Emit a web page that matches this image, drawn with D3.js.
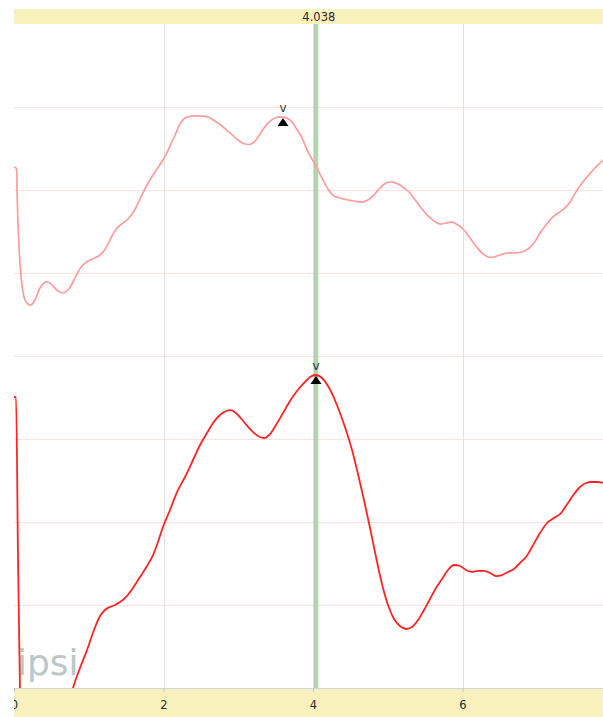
<!DOCTYPE html>
<html>
<head>
<meta charset="utf-8">
<script src="https://cdn.jsdelivr.net/npm/d3@7"></script>
<style>
  html, body { margin: 0; padding: 0; background: #fff; }
  svg { display: block; }
  text { font-family: "DejaVu Sans", Verdana, sans-serif; }
</style>
</head>
<body>
<svg id="chart" width="603" height="717"></svg>
<script>
// Upper (pale) trace: time (s) and amplitude (grid units)
const upperTime = [0, 0.027, 0.040, 0.054, 0.080, 0.107, 0.147, 0.187, 0.227, 0.281, 0.348, 0.401, 0.455, 0.522, 0.589, 0.656, 0.722, 0.789, 0.856, 0.910, 0.990, 1.084, 1.151, 1.231, 1.311, 1.378, 1.458, 1.525, 1.605, 1.686, 1.779, 1.886, 1.993, 2.087, 2.167, 2.221, 2.288, 2.381, 2.488, 2.595, 2.689, 2.783, 2.890, 2.997, 3.090, 3.171, 3.237, 3.318, 3.398, 3.492, 3.599, 3.692, 3.773, 3.853, 3.933, 4.040, 4.120, 4.201, 4.281, 4.361, 4.468, 4.562, 4.656, 4.736, 4.816, 4.896, 4.977, 5.057, 5.137, 5.217, 5.298, 5.378, 5.458, 5.538, 5.619, 5.699, 5.779, 5.860, 5.940, 6.020, 6.100, 6.181, 6.261, 6.341, 6.421, 6.502, 6.595, 6.702, 6.796, 6.876, 6.957, 7.037, 7.117, 7.197, 7.278, 7.358, 7.438, 7.518, 7.599, 7.679, 7.759, 7.839, 7.880];
const upperValues = [6.277, 6.265, 6.0, 5.578, 5.120, 4.855, 4.675, 4.627, 4.614, 4.675, 4.819, 4.880, 4.892, 4.843, 4.783, 4.759, 4.795, 4.892, 5.012, 5.084, 5.145, 5.181, 5.217, 5.301, 5.446, 5.542, 5.602, 5.651, 5.747, 5.892, 6.060, 6.217, 6.361, 6.530, 6.687, 6.795, 6.867, 6.892, 6.892, 6.880, 6.831, 6.771, 6.687, 6.602, 6.554, 6.554, 6.602, 6.711, 6.807, 6.867, 6.880, 6.843, 6.747, 6.627, 6.458, 6.289, 6.145, 6.012, 5.928, 5.904, 5.880, 5.867, 5.855, 5.880, 5.940, 6.024, 6.084, 6.096, 6.072, 6.024, 5.964, 5.867, 5.771, 5.687, 5.627, 5.590, 5.602, 5.614, 5.578, 5.518, 5.422, 5.325, 5.241, 5.193, 5.193, 5.217, 5.241, 5.241, 5.253, 5.289, 5.361, 5.482, 5.578, 5.663, 5.723, 5.771, 5.855, 5.976, 6.084, 6.169, 6.253, 6.325, 6.361];

// Lower (strong) trace
const lowerTime = [0, 0.027, 0.054, 0.080, 0.107, 0.348, 0.615, 0.789, 0.883, 0.977, 1.070, 1.151, 1.217, 1.284, 1.351, 1.418, 1.498, 1.592, 1.686, 1.779, 1.860, 1.926, 1.993, 2.087, 2.181, 2.288, 2.395, 2.488, 2.582, 2.662, 2.756, 2.836, 2.903, 2.983, 3.077, 3.171, 3.264, 3.344, 3.425, 3.505, 3.599, 3.692, 3.786, 3.880, 3.960, 4.040, 4.120, 4.201, 4.281, 4.361, 4.441, 4.522, 4.602, 4.682, 4.763, 4.843, 4.923, 5.003, 5.084, 5.164, 5.244, 5.324, 5.405, 5.485, 5.565, 5.645, 5.726, 5.806, 5.886, 5.967, 6.047, 6.127, 6.207, 6.288, 6.368, 6.448, 6.528, 6.609, 6.689, 6.769, 6.849, 6.930, 7.037, 7.130, 7.224, 7.318, 7.411, 7.492, 7.572, 7.652, 7.732, 7.813, 7.880];
const lowerValues = [3.506, 3.506, 1.542, -0.024, -0.867, -1.349, -0.687, 0, 0.241, 0.458, 0.699, 0.867, 0.940, 0.976, 1.0, 1.036, 1.096, 1.205, 1.337, 1.470, 1.602, 1.759, 1.940, 2.145, 2.361, 2.542, 2.747, 2.928, 3.072, 3.193, 3.289, 3.337, 3.349, 3.301, 3.205, 3.108, 3.036, 3.012, 3.060, 3.169, 3.313, 3.458, 3.578, 3.675, 3.747, 3.771, 3.735, 3.639, 3.494, 3.313, 3.108, 2.867, 2.578, 2.265, 1.928, 1.578, 1.253, 1.0, 0.831, 0.747, 0.711, 0.735, 0.819, 0.940, 1.072, 1.205, 1.313, 1.422, 1.482, 1.470, 1.422, 1.398, 1.410, 1.410, 1.386, 1.349, 1.361, 1.398, 1.434, 1.506, 1.578, 1.699, 1.867, 1.988, 2.048, 2.108, 2.229, 2.337, 2.422, 2.470, 2.482, 2.482, 2.470];

// Peak markers (time, value) and cursor position
const peakTimes = [3.599, 4.040];
const peakValues = [6.880, 3.771];
const peakLabels = ["v", "v"];
const cursorTime = 4.038;
const xTickValues = [0, 2, 4, 6];
const yGridValues = [1, 2, 3, 4, 5, 6, 7];
const watermark = "ipsi";

const W = 603, H = 717;
const plot = { left: 14, right: 603, top: 24, bottom: 688 };

const svg = d3.select("#chart");
const defs = svg.append("defs");

const x = d3.scaleLinear().domain([0, (plot.right - plot.left) / 74.75]).range([plot.left, plot.right]);
const y = d3.scaleLinear().domain([0, 8]).range([plot.bottom, plot.top]);

defs.append("clipPath").attr("id", "plotClip")
  .append("rect").attr("x", plot.left).attr("y", plot.top)
  .attr("width", plot.right - plot.left).attr("height", plot.bottom - plot.top);
defs.append("clipPath").attr("id", "axisClip")
  .append("rect").attr("x", plot.left).attr("y", 0)
  .attr("width", plot.right - plot.left).attr("height", H - plot.bottom);

// Grid
const grid = svg.append("g");
grid.selectAll("line.h").data(yGridValues).join("line")
  .attr("x1", plot.left).attr("x2", plot.right)
  .attr("y1", d => Math.round(y(d)) + 0.5).attr("y2", d => Math.round(y(d)) + 0.5)
  .attr("stroke", "#ffe0e0").attr("stroke-width", 1);
grid.selectAll("line.v").data(xTickValues.filter(d => d > 0)).join("line")
  .attr("x1", d => Math.round(x(d)) + 0.5).attr("x2", d => Math.round(x(d)) + 0.5)
  .attr("y1", plot.top).attr("y2", plot.bottom)
  .attr("stroke", "#e2e2e2").attr("stroke-width", 1);

// Watermark
svg.append("text").attr("x", 17).attr("y", 675)
  .attr("font-size", 36).attr("fill", "#bcc7c9").text(watermark);

// Cursor band
const cx = x(cursorTime);
svg.append("rect").attr("x", cx - 1.5).attr("y", plot.top).attr("width", 4)
  .attr("height", plot.bottom - plot.top).attr("fill", "#b4d8ad");
svg.append("line").attr("x1", cx - 1.5).attr("x2", cx - 1.5).attr("y1", plot.top).attr("y2", plot.bottom)
  .attr("stroke", "#8fbb88").attr("stroke-width", 1).attr("opacity", 0.6);

// Traces
const smoothLine = d3.line().x(d => x(d[0])).y(d => y(d[1])).curve(d3.curveCatmullRom.alpha(0.5));
const steepLine = d3.line().x(d => x(d[0])).y(d => y(d[1])).curve(d3.curveMonotoneX);
const traces = svg.append("g").attr("clip-path", "url(#plotClip)");
traces.append("path").datum(d3.zip(upperTime, upperValues))
  .attr("d", smoothLine).attr("fill", "none").attr("stroke", "#ff9c9c").attr("stroke-width", 1.7);
traces.append("path").datum(d3.zip(lowerTime, lowerValues))
  .attr("d", steepLine).attr("fill", "none").attr("stroke", "#ff2424").attr("stroke-width", 1.8);

// Peak markers
const peaks = svg.append("g");
peakTimes.forEach((t, i) => {
  const px = x(t), py = y(peakValues[i]);
  peaks.append("path")
    .attr("d", `M${px},${py + 1} L${px + 5.5},${py + 9} L${px - 5.5},${py + 9} Z`)
    .attr("fill", "#000");
  peaks.append("text").attr("x", px).attr("y", py - 5)
    .attr("text-anchor", "middle").attr("font-size", 12).attr("fill", "#333")
    .text(peakLabels[i]);
});

// Top readout bar
svg.append("rect").attr("x", plot.left).attr("y", 9).attr("width", plot.right - plot.left)
  .attr("height", plot.top - 9).attr("fill", "#f8f1bd");
svg.append("text").attr("x", cx + 3).attr("y", 20.5).attr("text-anchor", "middle")
  .attr("font-size", 11.5).attr("fill", "#2a2a2a").text(d3.format(".3f")(cursorTime));

// Bottom axis band
svg.append("rect").attr("x", plot.left).attr("y", plot.bottom).attr("width", plot.right - plot.left)
  .attr("height", H - plot.bottom).attr("fill", "#f8f1bd");
svg.append("line").attr("x1", plot.left).attr("x2", plot.right)
  .attr("y1", plot.bottom + 0.5).attr("y2", plot.bottom + 0.5)
  .attr("stroke", "#cdd6dc").attr("stroke-width", 1);

const axis = d3.axisBottom(x).tickValues(xTickValues).tickFormat(d3.format("d"))
  .tickSize(4).tickPadding(9);
const axisG = svg.append("g").attr("transform", `translate(0,${plot.bottom})`)
  .attr("clip-path", "url(#axisClip)").call(axis);
axisG.select(".domain").remove();
axisG.selectAll(".tick line").attr("stroke", "#b9c8d4");
axisG.selectAll(".tick text").attr("font-size", 11.5).attr("fill", "#2a2a2a")
  .attr("font-family", "DejaVu Sans, Verdana, sans-serif");
</script>
</body>
</html>
